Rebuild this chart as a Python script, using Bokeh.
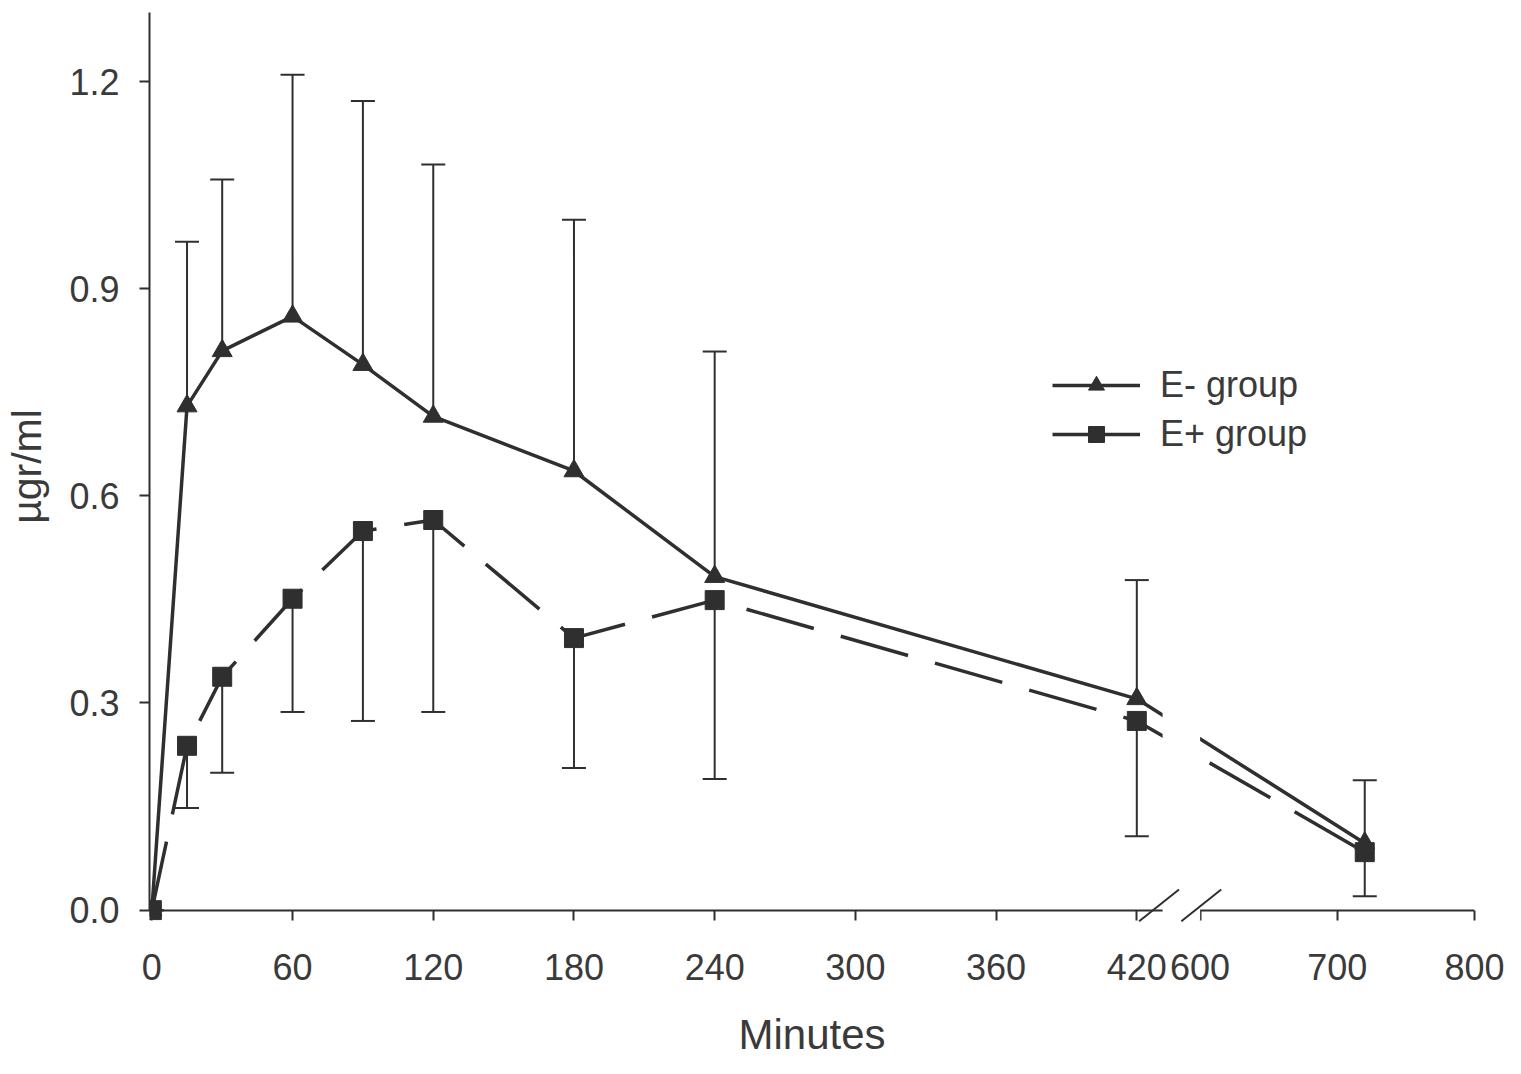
from bokeh.plotting import figure
from bokeh.models import (FixedTicker, Legend, LegendItem, ColumnDataSource, Title,
                          LinearAxis, PrintfTickFormatter)
from bokeh.embed import file_html
from bokeh.resources import INLINE

# ---- data (minutes, ug/ml) ----
minutes = [0, 15, 30, 60, 90, 120, 180, 240, 420, 720]
e_minus = [0.0, 0.73, 0.81, 0.86, 0.79, 0.715, 0.636, 0.483, 0.306, 0.097]
e_minus_upper = [0.0, 0.968, 1.058, 1.21, 1.172, 1.08, 1.0, 0.809, 0.478, 0.188]
e_plus = [0.0, 0.238, 0.338, 0.451, 0.549, 0.565, 0.394, 0.449, 0.274, 0.084]
e_plus_lower = [0.0, 0.148, 0.199, 0.287, 0.274, 0.287, 0.206, 0.19, 0.107, 0.02]
x_tick_minutes = [0, 60, 120, 180, 240, 300, 360, 420, 600, 700, 800]
y_ticks = [0.0, 0.3, 0.6, 0.9, 1.2]
series_names = ["E- group", "E+ group"]


def xpos(t):
    # broken axis: 0-420 linear, then 600-800 compressed
    if t <= 420:
        return t
    v = 447 + (t - 600) * 117 / 200
    return int(v) if v == int(v) else v


INK = "#2f2f2f"
TXT = "#3a3a3a"
FONT = "Liberation Sans"

p = figure(frame_width=1325, frame_height=908,
           x_range=(-1, xpos(800)), y_range=(-0.015, 1.3),
           output_backend="svg", toolbar_location=None,
           min_border_left=149, min_border_right=40,
           min_border_top=12, min_border_bottom=140)
p.outline_line_color = None
p.xgrid.visible = False
p.ygrid.visible = False
p.background_fill_color = "white"
p.border_fill_color = "white"

xt = [xpos(t) for t in x_tick_minutes]

# x axis line at y = 0 (no ticks of its own)
p.xaxis.ticker = FixedTicker(ticks=[])
p.xaxis.fixed_location = 0
p.xaxis.bounds = (-1, xpos(800))
p.xaxis.axis_line_color = INK
p.xaxis.axis_line_width = 2
p.xaxis.major_tick_line_color = None
p.xaxis.minor_tick_line_color = None

# tick marks and labels of the x axis
xlab = LinearAxis(ticker=FixedTicker(ticks=xt),
                  major_label_overrides={v: str(t) for v, t in zip(xt, x_tick_minutes)},
                  axis_line_color=None, major_tick_line_color=INK,
                  major_tick_line_width=2, major_tick_in=10, major_tick_out=0,
                  minor_tick_line_color=None, major_label_standoff=33,
                  major_label_text_font=FONT, major_label_text_font_size="36px",
                  major_label_text_color=TXT)
p.add_layout(xlab, "below")

p.yaxis.ticker = FixedTicker(ticks=y_ticks)
p.yaxis.formatter = PrintfTickFormatter(format="%.1f")
p.yaxis.bounds = (0, 1.3)
p.yaxis.axis_line_color = INK
p.yaxis.axis_line_width = 2
p.yaxis.major_tick_line_color = INK
p.yaxis.major_tick_line_width = 2
p.yaxis.major_tick_out = 10
p.yaxis.major_tick_in = 0
p.yaxis.minor_tick_line_color = None
p.yaxis.major_label_text_font = FONT
p.yaxis.major_label_text_color = TXT
p.yaxis.major_label_text_font_size = "36px"
p.yaxis.major_label_standoff = 20
p.yaxis.axis_label = "µgr/ml"
p.yaxis.axis_label_text_font = FONT
p.yaxis.axis_label_text_font_size = "41px"
p.yaxis.axis_label_text_font_style = "normal"
p.yaxis.axis_label_text_color = TXT
p.yaxis.axis_label_standoff = 16

p.add_layout(Title(text="Minutes", align="center", text_font=FONT,
                   text_font_size="42px", text_font_style="normal",
                   text_color=TXT, standoff=53), "below")

xs = [xpos(t) for t in minutes]

# error bars
src_m = ColumnDataSource(dict(x=xs, y=e_minus, u=e_minus_upper))
src_p = ColumnDataSource(dict(x=xs, y=e_plus, l=e_plus_lower))
p.segment(x0="x", y0="y", x1="x", y1="u", source=src_m, line_color=INK, line_width=2)
p.scatter(x="x", y="u", source=src_m, marker="dash", size=24, line_color=INK, line_width=2)
p.segment(x0="x", y0="y", x1="x", y1="l", source=src_p, line_color=INK, line_width=2)
p.scatter(x="x", y="l", source=src_p, marker="dash", size=24, line_color=INK, line_width=2)

# lines and markers
p.line(x="x", y="y", source=src_m, line_color=INK, line_width=3.5)
p.line(x="x", y="y", source=src_p, line_color=INK, line_width=3.5, line_dash="70 28")
p.scatter(x="x", y="y", source=src_m, marker="triangle", size=20,
          fill_color=INK, line_color=INK)
p.scatter(x="x", y="y", source=src_p, marker="square", size=19,
          fill_color=INK, line_color=INK)

# axis break
p.quad(left=[431], right=[447], bottom=[-0.015], top=[1.3],
       fill_color="white", line_color=None, level="overlay")
p.segment(x0=[421, 439], y0=[-0.016, -0.016], x1=[438, 456], y1=[0.03, 0.03],
          line_color=INK, line_width=2, level="overlay")

# legend (solid-line sample glyphs, placed outside the visible ranges)
off = dict(x=[-100], y=[-100])
lm = p.line(x="x", y="y", source=ColumnDataSource(off), line_color=INK, line_width=3.5)
sm = p.scatter(x="x", y="y", source=ColumnDataSource(off), marker="triangle", size=20,
               fill_color=INK, line_color=INK)
lp = p.line(x="x", y="y", source=ColumnDataSource(off), line_color=INK, line_width=3.5)
sp = p.scatter(x="x", y="y", source=ColumnDataSource(off), marker="square", size=19,
               fill_color=INK, line_color=INK)
legend = Legend(items=[LegendItem(label=series_names[0], renderers=[lm, sm]),
                       LegendItem(label=series_names[1], renderers=[lp, sp])],
                location=(903, 465), glyph_width=88, glyph_height=40,
                label_height=40, spacing=7, padding=0, margin=0,
                label_standoff=20, label_text_font=FONT,
                label_text_font_size="36px", label_text_color=TXT,
                background_fill_alpha=0, border_line_color=None)
p.add_layout(legend, "center")

open("out.html", "w").write(file_html(p, INLINE))
